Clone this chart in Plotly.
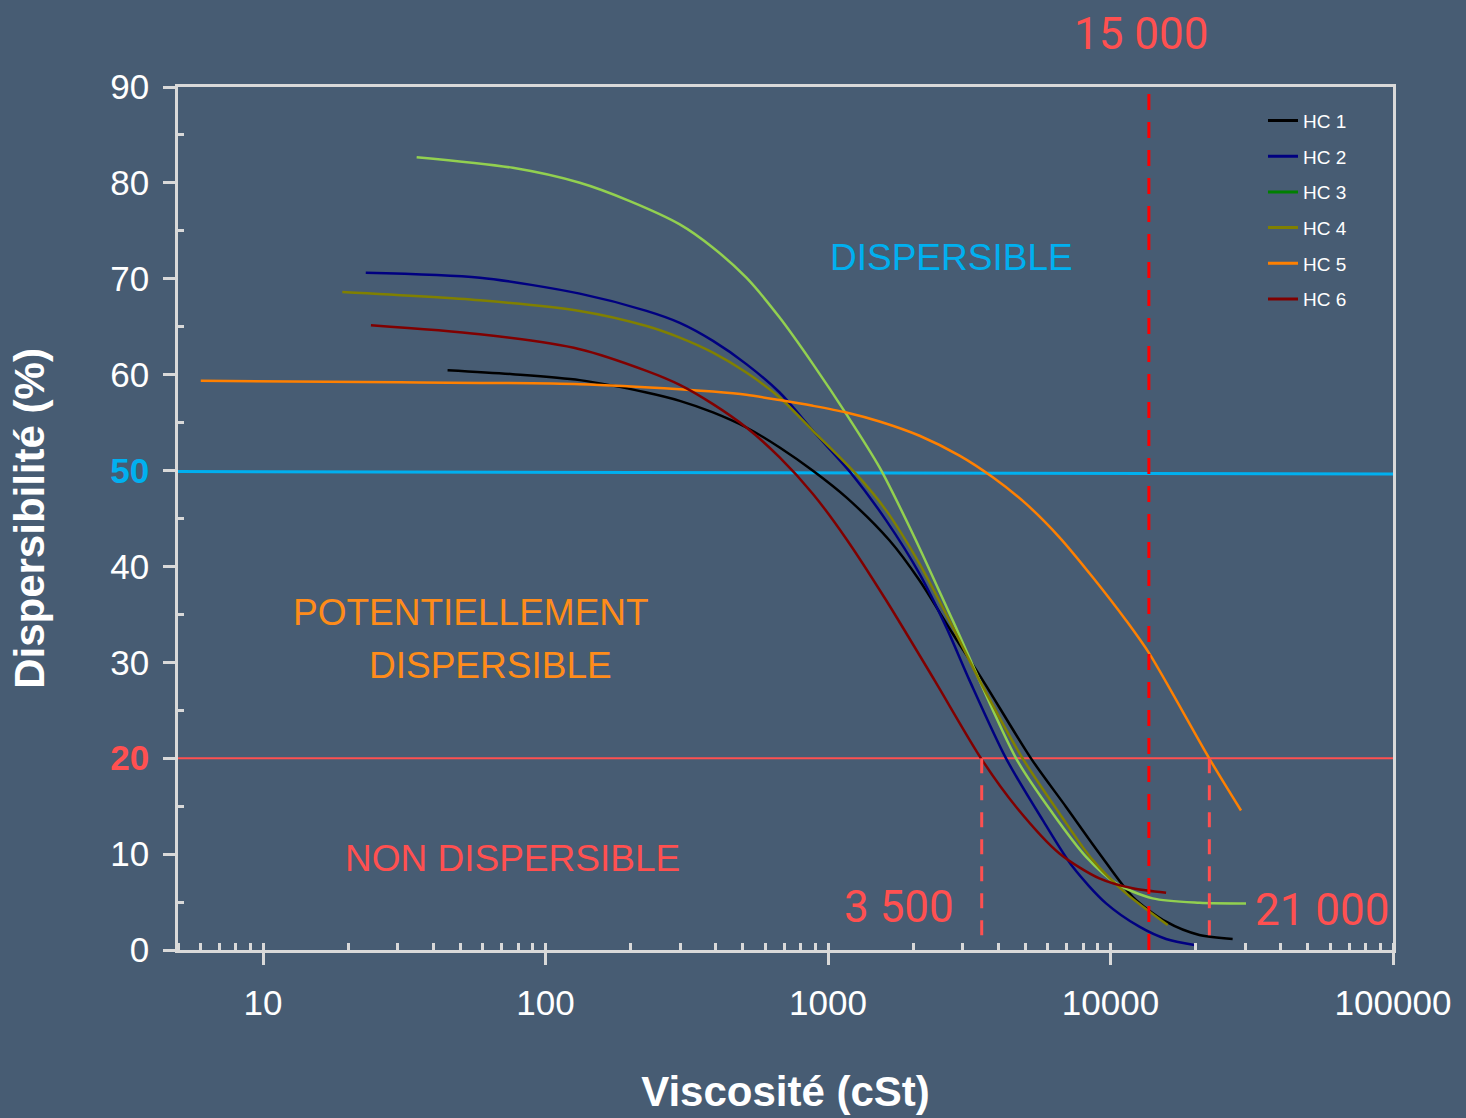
import plotly.graph_objects as go

# ---------------- data ----------------
series_names = ["HC 1", "HC 2", "HC 3", "HC 4", "HC 5", "HC 6"]

hc1_x = [45.0, 76.6, 132.2, 227.7, 298.7, 391.6, 514.0, 674.2, 884.4, 1161, 1652, 2109, 2765, 3531,
         5237, 6963, 9134, 11980, 15730, 20630, 27060]
hc1_y = [60.47, 60.05, 59.43, 58.14, 57.27, 56.06, 54.49, 52.41, 49.98, 47.20, 42.70, 38.53, 32.98, 28.12,
         19.96, 14.92, 10.07, 5.55, 2.95, 1.56, 1.15]

hc2_x = [23.1, 58.6, 132.2, 227.7, 298.7, 391.6, 514.0, 674.2, 884.4, 1209, 1608, 2109, 2621, 3169,
         4272, 5757, 7350, 9647, 12650, 15730, 19810]
hc2_y = [70.63, 70.11, 68.45, 66.65, 65.40, 63.52, 61.10, 58.14, 54.15, 49.70, 44.78, 39.23, 33.67, 28.12,
         19.96, 13.54, 8.67, 4.86, 2.43, 1.15, 0.52]

hc3_x = [34.98, 76.6, 132.2, 198.7, 298.7, 391.6, 514.0, 674.2, 884.4, 1161, 1522, 1997, 2765, 4636,
         6246, 8196, 10470, 14100, 20630, 30180]
hc3_y = [82.68, 81.57, 80.01, 78.10, 75.67, 73.24, 70.11, 65.95, 61.10, 55.89, 50.33, 43.39, 34.36, 19.96,
         14.24, 9.72, 6.95, 5.38, 4.93, 4.86]

hc4_x = [19.08, 58.6, 132.2, 227.7, 298.7, 391.6, 514.0, 674.2, 884.4, 1252, 1608, 2109, 2765, 3438,
         4891, 6597, 8651, 11360, 15940]
hc4_y = [68.62, 67.76, 66.65, 65.08, 63.87, 62.30, 60.22, 57.62, 54.15, 49.70, 45.82, 40.27, 33.67, 28.12,
         19.96, 14.24, 9.37, 5.90, 2.60]

hc5_x = [6.02, 30.5, 132.2, 298.7, 391.6, 514.0, 674.2, 884.4, 1161, 1522, 2109, 2921, 3831, 5029,
         6597, 8651, 11360, 13730, 22380, 28970]
hc5_y = [59.36, 59.20, 59.01, 58.49, 58.24, 57.90, 57.35, 56.75, 56.06, 55.12, 53.63, 51.55, 49.29, 46.52,
         43.04, 38.87, 34.36, 30.90, 19.96, 14.55]

hc6_x = [24.1, 58.6, 132.2, 227.7, 298.7, 391.6, 514.0, 674.2, 884.4, 1161, 1608, 2384, 3486,
         4636, 6597, 9134, 11980, 15730]
hc6_y = [65.16, 64.22, 62.66, 60.40, 58.94, 56.93, 54.49, 51.37, 47.56, 42.87, 36.45, 28.12, 19.96,
         14.92, 10.07, 7.47, 6.43, 5.97]

series_x = [hc1_x, hc2_x, hc3_x, hc4_x, hc5_x, hc6_x]
series_y = [hc1_y, hc2_y, hc3_y, hc4_y, hc5_y, hc6_y]

# thresholds and reference lines
threshold_dispersible = 50
threshold_non_dispersible = 20
visc_15000_line = 13670
visc_3500_line = 3500
visc_21000_line = 22380

y_tickvals = [0, 10, 20, 30, 40, 50, 60, 70, 80, 90]
y_minor_tickvals = [5, 15, 25, 35, 45, 55, 65, 75, 85]
x_range_vals = [5, 100000]

# ---------------- styles ----------------
curve_colors = ["#000000", "#000080", "#92d050", "#808000", "#ff8000", "#800000"]
legend_colors = ["#000000", "#000080", "#008000", "#808000", "#ff8000", "#800000"]
BG = "#475c73"
AX = "#d9d9d9"
BLUE = "#00b0f0"
RED = "#ff5050"
ORANGE = "#ff8c1a"
FONT = "Liberation Sans, Arial, sans-serif"
NARROW = "Liberation Sans Narrow, Arial Narrow, Roboto, sans-serif"

fig = go.Figure()

# threshold lines
fig.add_trace(go.Scatter(x=x_range_vals, y=[threshold_dispersible - 0.1, threshold_dispersible - 0.35],
                         mode="lines", line=dict(color=BLUE, width=3), showlegend=False, hoverinfo="skip"))
fig.add_trace(go.Scatter(x=x_range_vals, y=[threshold_non_dispersible, threshold_non_dispersible],
                         mode="lines", line=dict(color=RED, width=2), showlegend=False, hoverinfo="skip"))

# curves
for name, xs, ys, c in zip(series_names, series_x, series_y, curve_colors):
    fig.add_trace(go.Scatter(x=xs, y=ys, mode="lines", name=name,
                             line=dict(color=c, width=2.5, shape="spline", smoothing=0.8),
                             showlegend=False))

# vertical dashed lines
fig.add_trace(go.Scatter(x=[visc_15000_line, visc_15000_line], y=[0, 89.7], mode="lines",
                         line=dict(color="#ff0000", width=3, dash="16px,12px"),
                         showlegend=False, hoverinfo="skip"))
for v in [visc_3500_line, visc_21000_line]:
    fig.add_trace(go.Scatter(x=[v, v], y=[threshold_non_dispersible, 0.8], mode="lines",
                             line=dict(color=RED, width=3, dash="15px,12px"),
                             showlegend=False, hoverinfo="skip"))

# legend entries
for i, (name, c) in enumerate(zip(series_names, legend_colors)):
    fig.add_trace(go.Scatter(x=[None], y=[None], mode="lines", name=name,
                             line=dict(color=c, width=3), legendgroup=f"g{i}", showlegend=True))

ticktext = []
for v in y_tickvals:
    if v == threshold_dispersible:
        ticktext.append(f"<b><span style='color:{BLUE}'>{v}</span></b>")
    elif v == threshold_non_dispersible:
        ticktext.append(f"<b><span style='color:{RED}'>{v}</span></b>")
    else:
        ticktext.append(str(v))

fig.update_layout(
    width=1466, height=1118,
    margin=dict(l=178, r=73, t=87, b=168, autoexpand=False),
    paper_bgcolor=BG, plot_bgcolor=BG,
    font=dict(family=FONT, color="white"),
    xaxis=dict(
        type="log", range=[0.69897, 5], automargin=False,
        tickmode="linear", tick0=0, dtick=1, tickformat="d",
        ticks="outside", ticklen=12, tickwidth=2.5, tickcolor=AX,
        minor=dict(ticks="inside", ticklen=7, tickwidth=2.5, tickcolor=AX, dtick="D1", showgrid=False),
        showline=True, linecolor=AX, linewidth=2.5, mirror=True,
        showgrid=False, zeroline=False,
        tickfont=dict(size=35, color="white", family=FONT),
        ticklabelstandoff=8,
        title=dict(text="<b>Viscosité (cSt)</b>", font=dict(size=42, color="white", family=FONT), standoff=56),
    ),
    yaxis=dict(
        range=[0, 90], automargin=False,
        tickmode="array", tickvals=y_tickvals, ticktext=ticktext,
        ticks="outside", ticklen=12, tickwidth=2.5, tickcolor=AX,
        minor=dict(ticks="inside", ticklen=6, tickwidth=2.5, tickcolor=AX,
                   tickmode="array", tickvals=y_minor_tickvals, showgrid=False),
        showline=True, linecolor=AX, linewidth=2.5, mirror=True,
        showgrid=False, zeroline=False,
        tickfont=dict(size=35, color="white", family=FONT),
        ticklabelstandoff=7,
        title=dict(text="<b>Dispersibilité (%)</b>", font=dict(size=42, color="white", family=FONT), standoff=53),
    ),
    legend=dict(x=0.893, y=0.983, xanchor="left", yanchor="top",
                bgcolor="rgba(0,0,0,0)", font=dict(size=19, color="white", family=FONT),
                tracegroupgap=8, itemwidth=30),
    showlegend=True,
)

annotations = [
    dict(text="DISPERSIBLE", x=0.637, y=0.803, color=BLUE, size=37, family=FONT),
    dict(text="POTENTIELLEMENT", x=0.2412, y=0.391, color=ORANGE, size=37, family=FONT),
    dict(text="DISPERSIBLE", x=0.2568, y=0.330, color=ORANGE, size=37, family=FONT),
    dict(text="NON DISPERSIBLE", x=0.2757, y=0.1065, color=RED, size=37, family=FONT),
    dict(text="15 000", x=0.7926, y=1.0613, color=RED, size=44, family=NARROW),
    dict(text="3 500", x=0.5934, y=0.0498, color=RED, size=44, family=NARROW),
    dict(text="21 000", x=0.9416, y=0.0463, color=RED, size=44, family=NARROW),
]
for a in annotations:
    fig.add_annotation(text=a["text"], x=a["x"], y=a["y"], xref="paper", yref="paper",
                       xanchor="center", yanchor="middle", showarrow=False,
                       font=dict(size=a["size"], color=a["color"], family=a["family"]))

fig.write_html("out.html", config={"displayModeBar": False},
               post_script="document.body.style.margin='0';")
